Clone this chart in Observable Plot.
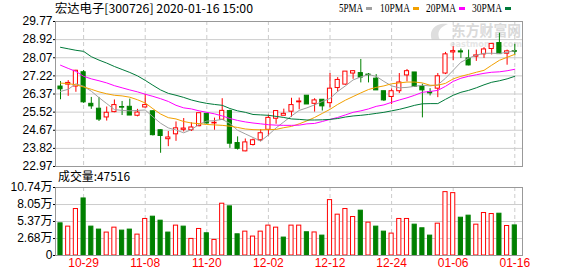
<!DOCTYPE html>
<html><head><meta charset="utf-8">
<script src="https://cdn.jsdelivr.net/npm/d3@7"></script>
<script src="https://cdn.jsdelivr.net/npm/@observablehq/plot@0.6"></script>
<style>
html,body{margin:0;padding:0;background:#fff;}
#chart{position:relative;width:578px;height:276px;overflow:hidden;background:#fff;}
#chart svg{position:absolute;left:0;}
</style></head><body><div id="chart"></div>
<script>
const dates = ["10-24","10-25","10-28","10-29","10-30","10-31","11-01","11-04","11-05","11-06",
"11-07","11-08","11-11","11-12","11-13","11-14","11-15","11-18","11-19","11-20",
"11-21","11-22","11-25","11-26","11-27","11-28","11-29","12-02","12-03","12-04",
"12-05","12-06","12-09","12-10","12-11","12-12","12-13","12-16","12-17","12-18",
"12-19","12-20","12-23","12-24","12-25","12-26","12-27","12-30","12-31","01-02",
"01-03","01-06","01-07","01-08","01-09","01-10","01-13","01-14","01-15","01-16"];
const open = [26.72,26.81,26.72,27.39,25.91,25.68,25.27,25.52,25.76,25.77,
25.35,25.74,25.56,24.67,24.25,24.48,24.69,24.67,24.86,25.44,
24.99,25.16,25.57,24.07,23.68,23.98,24.20,24.69,25.21,25.35,
25.54,25.98,26.29,25.91,26.10,25.94,26.65,26.81,27.33,27.35,
27.28,27.09,26.50,26.23,26.50,27.24,27.38,26.72,26.46,26.62,
27.33,28.32,28.37,28.04,28.12,28.23,28.48,28.76,28.26,28.38];
const high = [26.95,27.00,27.48,27.47,26.21,26.21,25.76,26.09,26.02,26.13,
25.65,26.35,25.58,24.69,24.61,25.06,25.22,25.02,25.47,25.44,
25.24,26.15,25.61,24.36,24.26,24.26,24.70,25.38,25.57,25.66,
26.17,26.18,26.29,26.15,26.10,27.33,27.14,27.42,27.47,27.99,
27.33,27.28,26.50,26.61,27.33,27.52,27.38,26.83,26.62,27.33,
28.32,28.59,28.48,28.43,28.43,28.54,28.72,29.22,28.43,28.70];
const low = [26.10,26.26,26.45,25.93,25.65,25.08,25.10,25.49,25.36,25.36,
25.30,25.71,24.40,23.59,23.90,24.15,24.59,24.61,24.83,24.95,
24.67,25.16,23.82,23.74,23.66,23.93,24.13,24.40,24.95,25.35,
25.28,25.63,25.88,25.52,25.57,25.72,26.46,26.78,27.06,26.89,
26.89,26.54,26.02,25.87,26.39,26.94,26.70,25.25,26.28,26.20,
27.28,27.93,28.04,27.69,27.90,28.04,28.20,28.24,27.72,28.16];
const close = [26.59,26.89,27.46,25.98,25.79,25.17,25.49,25.85,25.73,25.36,
25.50,25.85,24.44,24.40,24.33,24.76,24.75,24.80,25.47,24.99,
25.02,25.58,24.04,23.80,24.10,24.20,24.53,25.25,25.57,25.44,
25.85,26.02,25.88,26.07,25.79,26.62,27.03,27.42,27.44,27.14,
27.25,26.54,26.07,26.50,26.91,27.44,26.70,26.54,26.40,27.20,
28.23,28.38,28.32,27.71,28.18,28.46,28.72,28.24,28.37,28.35];
// volume in 万 (10,000 lots)
const volume = [5.08,4.56,7.34,9.01,4.56,4.09,3.62,4.40,3.93,4.09,
3.30,5.77,6.13,5.50,3.62,4.72,4.56,2.62,4.19,3.51,
2.46,8.18,7.76,3.35,3.77,2.99,3.77,4.72,4.40,2.83,
4.72,4.72,3.67,3.64,3.14,8.75,6.45,7.34,6.08,7.08,
5.19,4.56,3.77,3.46,5.77,5.77,4.87,4.30,3.14,5.03,
10.01,9.85,5.97,6.29,4.87,6.71,6.55,6.60,4.66,4.7516];
const ma5 = [26.49,26.59,26.85,26.73,26.50,26.20,25.92,25.64,25.60,25.58,
25.60,25.62,25.30,25.00,24.78,24.68,24.55,24.70,24.95,25.10,
25.12,25.18,24.99,24.67,24.50,24.33,24.16,24.45,24.78,25.06,
25.34,25.60,25.72,25.86,26.02,26.16,26.49,26.75,27.03,27.17,
27.28,27.20,26.96,26.75,26.66,26.68,26.73,26.78,26.75,26.80,
27.11,27.48,27.86,28.05,28.19,28.28,28.28,28.27,28.33,28.40];
const ma10 = [26.88,26.86,26.80,26.70,26.59,26.47,26.38,26.31,26.28,26.22,
26.10,25.95,25.68,25.43,25.26,25.20,25.08,25.01,24.98,24.94,
24.92,24.90,24.86,24.80,24.73,24.70,24.69,24.70,24.71,24.79,
24.85,24.97,25.11,25.27,25.46,25.65,25.88,26.08,26.25,26.42,
26.58,26.68,26.75,26.85,26.89,26.93,26.93,26.89,26.78,26.78,
26.87,27.08,27.20,27.29,27.39,27.48,27.72,27.95,28.09,28.23];
const ma20 = [27.72,27.57,27.43,27.20,27.08,26.99,26.89,26.76,26.66,26.56,
26.47,26.36,26.26,26.15,26.02,25.84,25.72,25.67,25.58,25.51,
25.44,25.34,25.22,25.13,25.06,25.01,24.97,24.93,24.91,24.90,
24.90,24.91,24.97,24.99,25.08,25.18,25.27,25.39,25.51,25.58,
25.67,25.79,25.86,25.98,26.09,26.19,26.31,26.45,26.49,26.54,
26.73,26.96,27.11,27.20,27.27,27.34,27.39,27.41,27.46,27.53];
const ma30 = [28.56,28.49,28.42,28.37,28.12,27.96,27.82,27.66,27.52,27.38,
27.22,27.01,26.78,26.56,26.40,26.31,26.21,26.09,26.00,25.93,
25.88,25.84,25.69,25.58,25.51,25.41,25.39,25.37,25.32,25.27,
25.20,25.18,25.15,25.15,25.16,25.18,25.22,25.29,25.34,25.37,
25.41,25.46,25.51,25.58,25.65,25.74,25.84,25.91,25.92,25.92,
26.12,26.31,26.45,26.54,26.66,26.80,26.92,26.99,27.08,27.20];
const priceTicks = [22.97,23.82,24.67,25.52,26.37,27.22,28.07,28.92,29.77];
const volumeTicks = [0,2.68,5.37,8.05,10.74];
const dateTicks = ["10-29","11-08","11-20","12-02","12-12","12-24","01-06","01-16"];
const maNames = ["5PMA","10PMA","20PMA","30PMA"];
const maColors = ["#a0a0a0","#f2a000","#ff00ff","#007a3a"];
const title = "宏达电子[300726] 2020-01-16 15:00";
const volumeTitle = "成交量:47516";

const RED = "#ff0000", GREEN = "#008000";
const bars = dates.map((d, i) => ({i, date: d, o: open[i], h: high[i], l: low[i], c: close[i], v: volume[i],
  up: close[i] >= open[i],
  volUp: i === 0 ? close[i] >= open[i] : close[i] >= close[i - 1]}));
const upBars = bars.filter(d => d.up), downBars = bars.filter(d => !d.up);
const volUpBars = bars.filter(d => d.volUp), volDownBars = bars.filter(d => !d.volUp);
const tickIdx = dateTicks.map(t => dates.indexOf(t));
const maSeries = [ma5, ma10, ma20, ma30].map(s => s.map((v, i) => ({i, v})));
const HW = 0.27;
const xDomain = [-0.65, 60.0];
const fontStack = "'Liberation Sans', 'Noto Sans CJK SC', sans-serif";

const root = document.getElementById("chart");

// background watermark
const bg = d3.select(root).append("svg").attr("width", 578).attr("height", 276).style("top", "0px");
bg.append("text").attr("x", 452).attr("y", 36).attr("font-family", "'Noto Sans CJK SC'").attr("font-weight", "bold")
  .attr("font-size", 15).attr("fill", "#dadada").attr("textLength", 69).attr("lengthAdjust", "spacingAndGlyphs").text("东方财富网");
bg.append("text").attr("x", 450).attr("y", 47).attr("font-family", "'DejaVu Sans'").attr("font-weight", "bold")
  .attr("font-size", 9).attr("fill", "#e6e6e6").attr("textLength", 72).attr("lengthAdjust", "spacingAndGlyphs").text("eastmoney.com");
bg.append("path").attr("d", "M432,40 C428,30 436,22 448,24 C440,27 436,32 440,40 Z").attr("fill", "#dedede");

const pricePlot = Plot.plot({
  width: 578, height: 176,
  marginLeft: 55, marginRight: 56, marginTop: 21, marginBottom: 10,
  style: {background: "transparent", fontFamily: fontStack, fontSize: "12px", color: "#000"},
  x: {domain: xDomain, axis: null},
  y: {domain: [22.97, 29.77], ticks: priceTicks, tickFormat: d => d.toFixed(2), tickSize: 2, tickPadding: 1, label: null},
  marks: [
    Plot.ruleY(priceTicks.slice(1, -1), {stroke: "#cccccc"}),
    Plot.ruleX(tickIdx, {stroke: "#cccccc", strokeDasharray: "4,3"}),
    Plot.ruleX(upBars, {x: "i", y1: "l", y2: "h", stroke: RED}),
    Plot.ruleX(downBars, {x: "i", y1: "l", y2: "h", stroke: GREEN}),
    Plot.rect(upBars, {x1: d => d.i - HW, x2: d => d.i + HW, y1: d => Math.min(d.o, d.c), y2: d => Math.max(d.o, d.c), fill: "#fff", stroke: RED}),
    Plot.rect(downBars, {x1: d => d.i - HW, x2: d => d.i + HW, y1: d => Math.min(d.o, d.c), y2: d => Math.max(d.o, d.c), fill: GREEN, stroke: GREEN}),
    ...maSeries.map((s, k) => Plot.line(s, {x: "i", y: "v", stroke: maColors[k], strokeWidth: 1})),
    Plot.frame({stroke: "#999999"})
  ]
});
pricePlot.style.top = "0px";
root.appendChild(pricePlot);

const volPlot = Plot.plot({
  width: 578, height: 106,
  marginLeft: 55, marginRight: 56, marginTop: 17, marginBottom: 21,
  style: {background: "transparent", fontFamily: fontStack, fontSize: "12px", color: "#000"},
  x: {domain: xDomain, axis: null},
  y: {domain: [0, 10.74], ticks: volumeTicks, tickFormat: d => d === 0 ? "0" : d.toFixed(2) + "万", tickSize: 2, tickPadding: 1, label: null},
  marks: [
    Plot.ruleY(volumeTicks.slice(1, -1), {stroke: "#cccccc"}),
    Plot.ruleX(tickIdx, {stroke: "#cccccc", strokeDasharray: "4,3"}),
    Plot.rect(volUpBars, {x1: d => d.i - HW, x2: d => d.i + HW, y1: 0, y2: "v", fill: "#fff", stroke: RED}),
    Plot.rect(volDownBars, {x1: d => d.i - HW, x2: d => d.i + HW, y1: 0, y2: "v", fill: GREEN, stroke: GREEN}),
    Plot.frame({stroke: "#999999"}),
    Plot.text(tickIdx, {x: d => d, text: d => dates[d], frameAnchor: "bottom", dy: 11, fill: RED, fontSize: 12})
  ]
});
volPlot.style.top = "170px";
root.appendChild(volPlot);

// foreground texts
const fg = d3.select(root).append("svg").attr("width", 578).attr("height", 276).style("top", "0px");
fg.append("text").attr("x", 55).attr("y", 13).attr("font-family", "'Noto Sans CJK SC'").attr("font-size", 12)
  .attr("fill", "#000").attr("textLength", 198).attr("lengthAdjust", "spacingAndGlyphs").text(title);
const legX = [339, 380, 426, 472], legW = [24, 30, 30, 30], swX = [366, 413, 459, 505];
maNames.forEach((n, k) => {
  fg.append("text").attr("x", legX[k]).attr("y", 12).attr("font-family", "'Liberation Serif'").attr("font-size", 12)
    .attr("fill", "#000").attr("textLength", legW[k]).attr("lengthAdjust", "spacingAndGlyphs").text(n);
  fg.append("rect").attr("x", swX[k]).attr("y", 7).attr("width", 6).attr("height", 3).attr("fill", maColors[k]);
});
fg.append("text").attr("x", 58).attr("y", 181).attr("font-family", "'Noto Sans CJK SC'").attr("font-size", 12)
  .attr("fill", "#000").attr("textLength", 72).attr("lengthAdjust", "spacingAndGlyphs").text(volumeTitle);
</script></body></html>
